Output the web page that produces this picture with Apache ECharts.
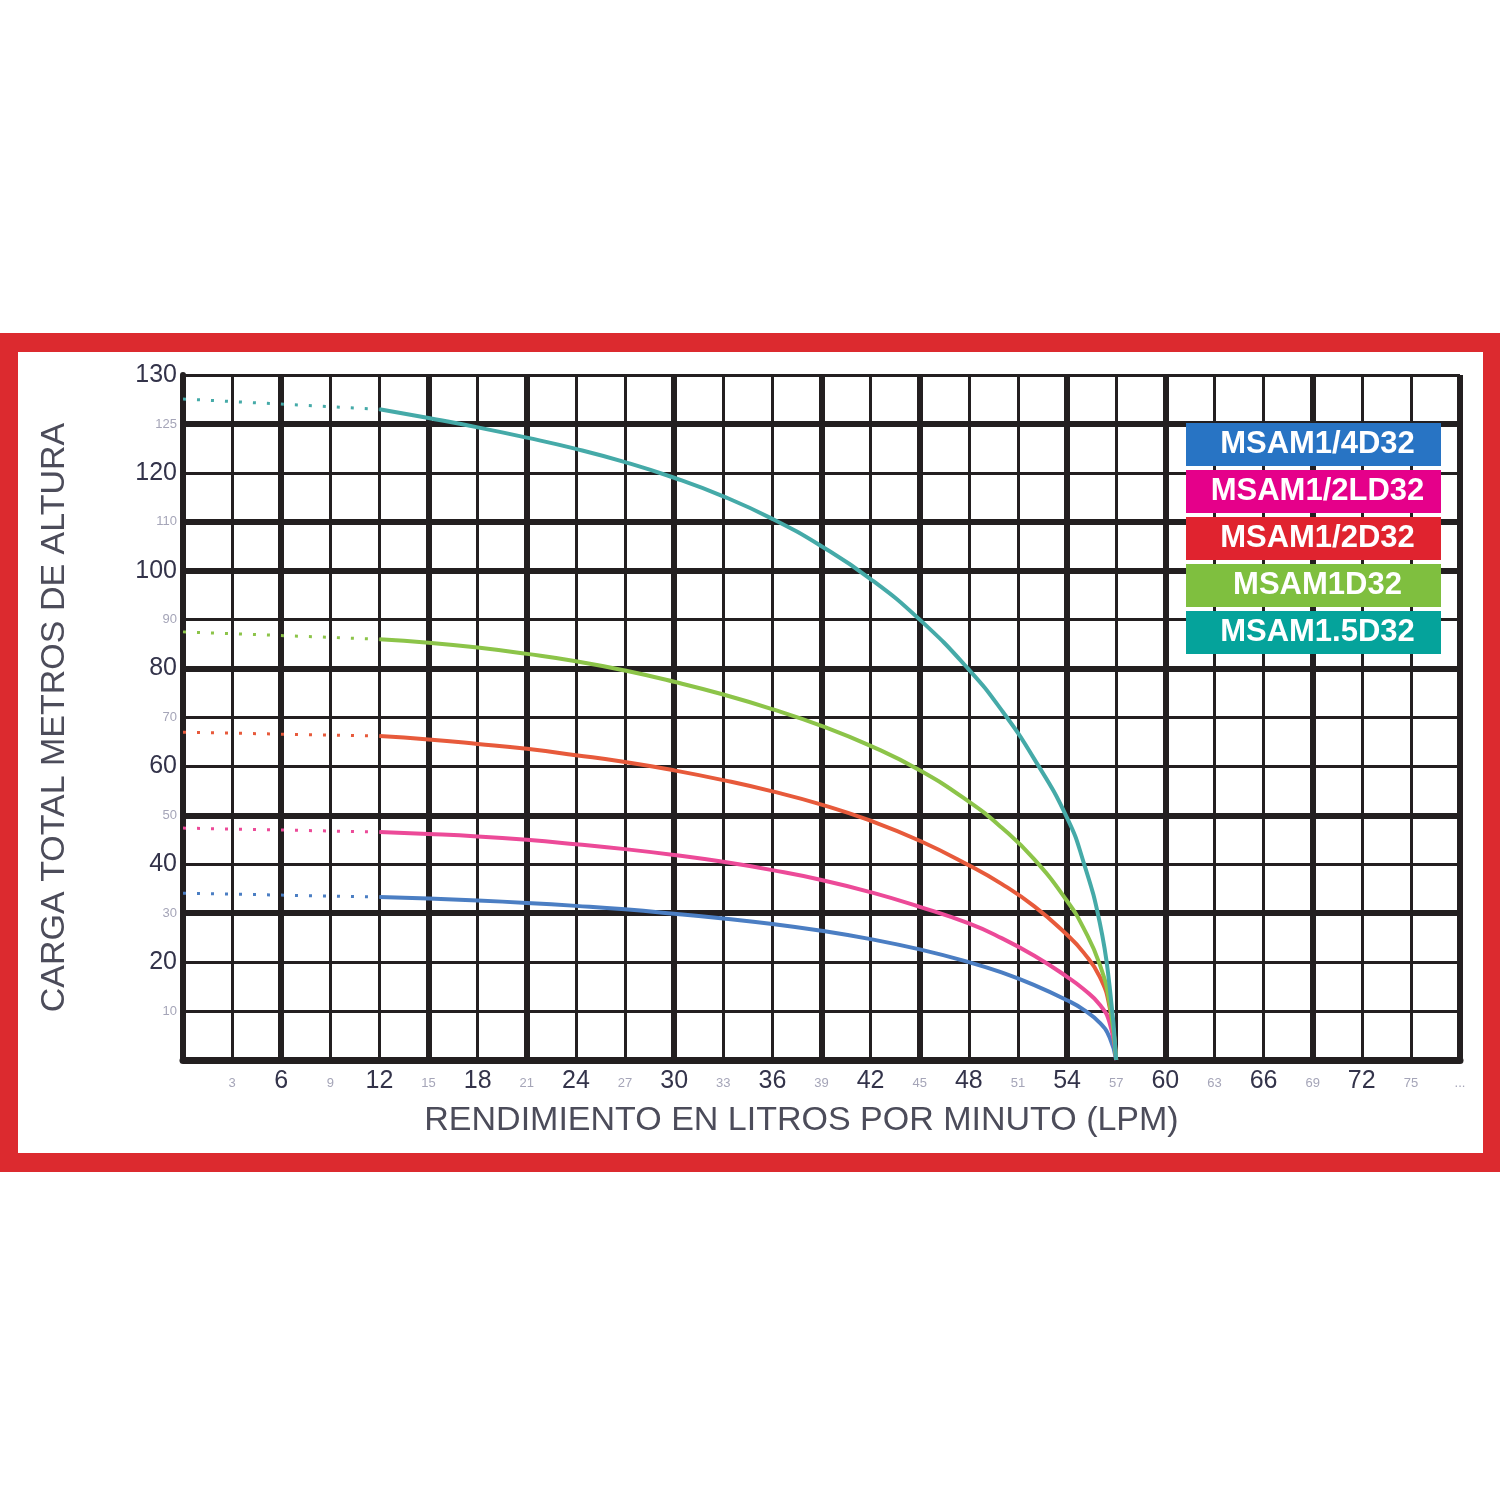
<!DOCTYPE html>
<html>
<head>
<meta charset="utf-8">
<script src="https://cdn.jsdelivr.net/npm/echarts@6/dist/echarts.min.js"></script>
<style>
  html, body { margin: 0; padding: 0; background: #ffffff; }
  #chart { width: 1500px; height: 1500px; }
</style>
</head>
<body>
<div id="chart"></div>
<script>
// ---------------- DATA ----------------
const models = ['MSAM1/4D32', 'MSAM1/2LD32', 'MSAM1/2D32', 'MSAM1D32', 'MSAM1.5D32'];
const flow = [12, 15, 18, 21, 24, 27, 30, 33, 36, 39, 42, 45, 48, 50, 52, 54, 55, 56, 56.6, 57];
const headBlue  = [33.3, 33.0, 32.6, 32.1, 31.5, 30.8, 29.9, 28.9, 27.8, 26.4, 24.7, 22.6, 20.0, 17.9, 15.3, 12.2, 10.3, 7.6, 4.6, 0];
const headPink  = [46.6, 46.2, 45.7, 45.0, 44.1, 43.1, 41.9, 40.5, 38.8, 36.8, 34.3, 31.3, 27.9, 24.9, 21.3, 17.0, 14.5, 11.3, 7.6, 0];
const headRed   = [66.2, 65.5, 64.6, 63.6, 62.3, 60.9, 59.2, 57.2, 54.9, 52.2, 48.9, 44.8, 39.8, 36.0, 31.4, 25.6, 22.0, 17.0, 10.8, 0];
const headGreen = [86.0, 85.3, 84.3, 83.0, 81.5, 79.6, 77.3, 74.7, 71.7, 68.3, 64.2, 59.2, 52.8, 47.5, 41.0, 32.5, 27.0, 19.5, 11.5, 0];
const headTeal  = [133.0, 131.2, 129.3, 127.2, 124.9, 122.2, 119.0, 115.2, 110.6, 105.0, 98.3, 90.0, 79.8, 71.5, 61.5, 49.5, 40.5, 28.0, 15.0, 0];
// dotted part: from 0 LPM to 12 LPM
const dottedFlow = [0, 12];
const dottedStartHead = [34.1, 47.4, 67.0, 87.5, 135.1];

const xTickValues = [3, 6, 9, 12, 15, 18, 21, 24, 27, 30, 33, 36, 39, 42, 45, 48, 51, 54, 57, 60, 63, 66, 69, 72, 75, 78];
const xTickLabels = ['3', '6', '9', '12', '15', '18', '21', '24', '27', '30', '33', '36', '39', '42', '45', '48', '51', '54', '57', '60', '63', '66', '69', '72', '75', '...'];
const xTickBig    = [0, 1, 0, 1, 0, 1, 0, 1, 0, 1, 0, 1, 0, 1, 0, 1, 0, 1, 0, 1, 0, 1, 0, 1, 0, 0];
const yTickValues = [10, 20, 30, 40, 50, 60, 70, 80, 90, 100, 110, 120, 130, 140];
const yTickLabels = ['10', '20', '30', '40', '50', '60', '70', '80', '90', '100', '110', '120', '125', '130'];
const yTickBig    = [0, 1, 0, 1, 0, 1, 0, 1, 0, 1, 0, 1, 0, 1];

// grid lines drawn heavier in the original
const thickX = [6, 15, 21, 30, 39, 45, 54, 60, 69, 78];
const thickY = [30, 50, 80, 100, 110, 130];

// ---------------- STYLE ----------------
const lineColors   = ['#4b7ec3', '#ec4a98', '#e75a3b', '#8cc449', '#45aaa8'];
const legendColors = ['#2874c4', '#e5008a', '#e0232f', '#7fbf3f', '#05a39b'];
const curves = [headBlue, headPink, headRed, headGreen, headTeal];

const chart = echarts.init(document.getElementById('chart'), null, { renderer: 'canvas' });

const series = [];
series.push({
  type: 'line', name: '_grid', data: [], z: 1, silent: true,
  markLine: {
    z: 1, silent: true, symbol: 'none', label: { show: false },
    lineStyle: { color: '#231f20', width: 6, type: 'solid' },
    data: thickX.map(v => ({ xAxis: v })).concat(thickY.map(v => ({ yAxis: v })))
  }
});
curves.forEach((vals, i) => {
  series.push({
    type: 'line', name: models[i], z: 5,
    data: flow.map((f, k) => [f, vals[k]]),
    smooth: 0.5, showSymbol: false, symbol: 'none',
    lineStyle: { color: lineColors[i], width: 4 },
    itemStyle: { color: lineColors[i] }
  });
  series.push({
    type: 'line', name: models[i], z: 5,
    data: [[dottedFlow[0], dottedStartHead[i]], [dottedFlow[1], vals[0]]],
    showSymbol: false, symbol: 'none',
    lineStyle: { color: lineColors[i], width: 3, type: [3, 11], cap: 'butt' },
    itemStyle: { color: lineColors[i] }
  });
});

const rich = {};
models.forEach((m, i) => {
  rich['l' + i] = {
    width: 247, height: 43, lineHeight: 43, align: 'center',
    backgroundColor: legendColors[i], color: '#ffffff',
    fontSize: 31, fontWeight: 'bold', fontFamily: 'Liberation Sans, Arial, sans-serif',
    padding: [0, 0, 0, 8]
  };
});

const labelFont = 'Liberation Sans, Arial, sans-serif';

const option = {
  backgroundColor: '#ffffff',
  animation: false,
  graphic: [{
    type: 'rect', z: 0, silent: true,
    shape: { x: 8.5, y: 342.5, width: 1484, height: 820 },
    style: { fill: 'none', stroke: '#dc2a2f', lineWidth: 19 }
  }],
  grid: { left: 183, right: 40, top: 375, bottom: 440, containLabel: false },
  legend: {
    z: 20, zlevel: 0,
    orient: 'vertical', left: 1181, top: 423, padding: 0, itemGap: 4,
    icon: 'none', itemWidth: 0, itemHeight: 0,
    data: models,
    formatter: name => '{l' + models.indexOf(name) + '|' + name + '}',
    textStyle: { rich: rich },
    selectedMode: false
  },
  xAxis: {
    type: 'value', min: 0, max: 78, interval: 3,
    name: 'RENDIMIENTO EN LITROS POR MINUTO (LPM)',
    nameLocation: 'middle', nameGap: 44,
    nameTextStyle: { fontSize: 34, color: '#4c4c5a', fontFamily: labelFont, padding: [0, 40, 0, 0] },
    axisLine: { show: true, onZero: false, lineStyle: { color: '#231f20', width: 7 } },
    axisTick: { show: false },
    splitLine: { show: true, lineStyle: { color: '#231f20', width: 3 } },
    axisLabel: {
      margin: 9, fontFamily: labelFont,
      formatter: v => {
        const k = xTickValues.indexOf(v);
        if (k < 0) return '';
        return (xTickBig[k] ? '{b|' : '{s|') + xTickLabels[k] + '}';
      },
      rich: {
        b: { fontSize: 25, color: '#33334a', fontFamily: labelFont },
        s: { fontSize: 13, color: '#a5a5b8', fontFamily: labelFont, padding: [8, 0, 0, 0] }
      }
    }
  },
  yAxis: {
    type: 'value', min: 0, max: 140, interval: 10,
    name: 'CARGA TOTAL METROS DE ALTURA',
    nameLocation: 'middle', nameGap: 111, nameRotate: 90,
    nameTextStyle: { fontSize: 34, color: '#4c4c5a', fontFamily: labelFont },
    axisLine: { show: true, onZero: false, lineStyle: { color: '#231f20', width: 6 } },
    axisTick: { show: false },
    splitLine: { show: true, lineStyle: { color: '#231f20', width: 3 } },
    axisLabel: {
      margin: 6, fontFamily: labelFont,
      formatter: v => {
        const k = yTickValues.indexOf(v);
        if (k < 0) return '';
        return (yTickBig[k] ? '{b|' : '{s|') + yTickLabels[k] + '}';
      },
      rich: {
        b: { fontSize: 25, color: '#33334a', fontFamily: labelFont },
        s: { fontSize: 13, color: '#a5a5b8', fontFamily: labelFont }
      }
    }
  },
  series: series
};
chart.setOption(option);
</script>
</body>
</html>
